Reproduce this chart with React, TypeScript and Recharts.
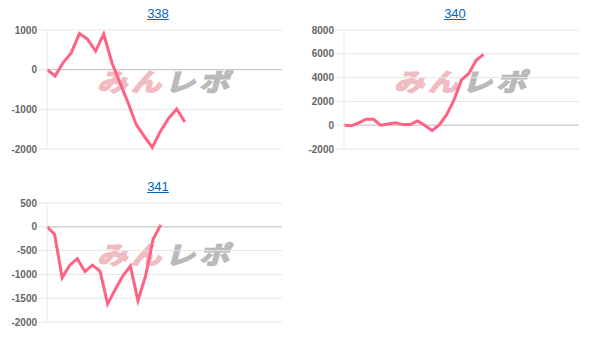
import { LineChart, Line, XAxis, YAxis, CartesianGrid, ReferenceLine } from 'recharts'

// differential per machine
const values338 = [0, -160, 180, 430, 910, 770, 470, 900, 180, -330, -830, -1380, -1680, -1960, -1550, -1230, -990, -1320]
const values340 = [0, -50, 200, 500, 500, 0, 100, 200, 50, 50, 350, 0, -450, 50, 900, 2150, 3800, 4350, 5450, 5950]
const values341 = [0, -155, -1070, -805, -670, -940, -805, -930, -1620, -1315, -1035, -825, -1550, -1035, -260, 40]

const ticks338 = [-2000, -1000, 0, 1000]
const ticks340 = [-2000, 0, 2000, 4000, 6000, 8000]
const ticks341 = [-2000, -1500, -1000, -500, 0, 500]

// number of label slots on each x axis
const slots338 = 30
const slots340 = 33
const slots341 = 32

const FONT = '"Liberation Sans", Arial, sans-serif'

type PanelProps = {
  title: string
  values: number[]
  ticks: number[]
  slots: number
  left: number
  top: number
}

function Panel({ title, values, ticks, slots, left, top }: PanelProps) {
  const data = values.map((v, i) => ({ i, v }))
  return (
    <div style={{ position: 'absolute', left, top, width: 300, height: 165 }}>
      <div style={{ position: 'absolute', left: 118, top: 6, width: 80, textAlign: 'center', fontFamily: FONT, fontSize: 13, color: '#0066c0', textDecoration: 'underline' }}>
        {title}
      </div>
      <div style={{ position: 'absolute', left: 100, top: 63, width: 150, height: 34, fontFamily: '"Noto Sans CJK JP", sans-serif', fontSize: 30, fontWeight: 700, lineHeight: '34px', letterSpacing: 4, whiteSpace: 'nowrap', transform: 'scaleY(0.82) skewX(-12deg)', transformOrigin: 'left center' }}>
        <span style={{ color: 'rgb(240,188,194)', WebkitTextStroke: '2px rgb(240,188,194)' }}>みん</span>
        <span style={{ color: 'rgb(186,186,186)', WebkitTextStroke: '2px rgb(186,186,186)' }}>レポ</span>
      </div>
      <div style={{ position: 'absolute', left: 0, top: 0 }}>
        <LineChart width={300} height={160} data={data} margin={{ top: 30, right: 18, bottom: 11, left: 0 }}>
          <CartesianGrid vertical={false} stroke="#e6e6e6" />
          <XAxis dataKey="i" type="number" domain={[0, slots - 1]} hide />
          <YAxis
            domain={[ticks[0], ticks[ticks.length - 1]]}
            ticks={ticks}
            interval={0}
            width={47}
            axisLine={{ stroke: '#e6e6e6' }}
            tickLine={{ stroke: '#e6e6e6' }}
            tickSize={9}
            tickMargin={1}
            tick={{ fill: '#666', fontSize: 10, fontFamily: FONT, fontWeight: 'bold' }}
          />
          <ReferenceLine y={0} stroke="#c4c4c4" />
          <Line dataKey="v" type="linear" stroke="#ff6384" strokeWidth={3} dot={false} isAnimationActive={false} />
        </LineChart>
      </div>
    </div>
  )
}

export default function App() {
  return (
    <div style={{ position: 'absolute', left: 0, top: 0, width: 616, height: 347, background: '#fff' }}>
      <Panel title="338" values={values338} ticks={ticks338} slots={slots338} left={0} top={0} />
      <Panel title="340" values={values340} ticks={ticks340} slots={slots340} left={297} top={0} />
      <Panel title="341" values={values341} ticks={ticks341} slots={slots341} left={0} top={173} />
    </div>
  )
}
